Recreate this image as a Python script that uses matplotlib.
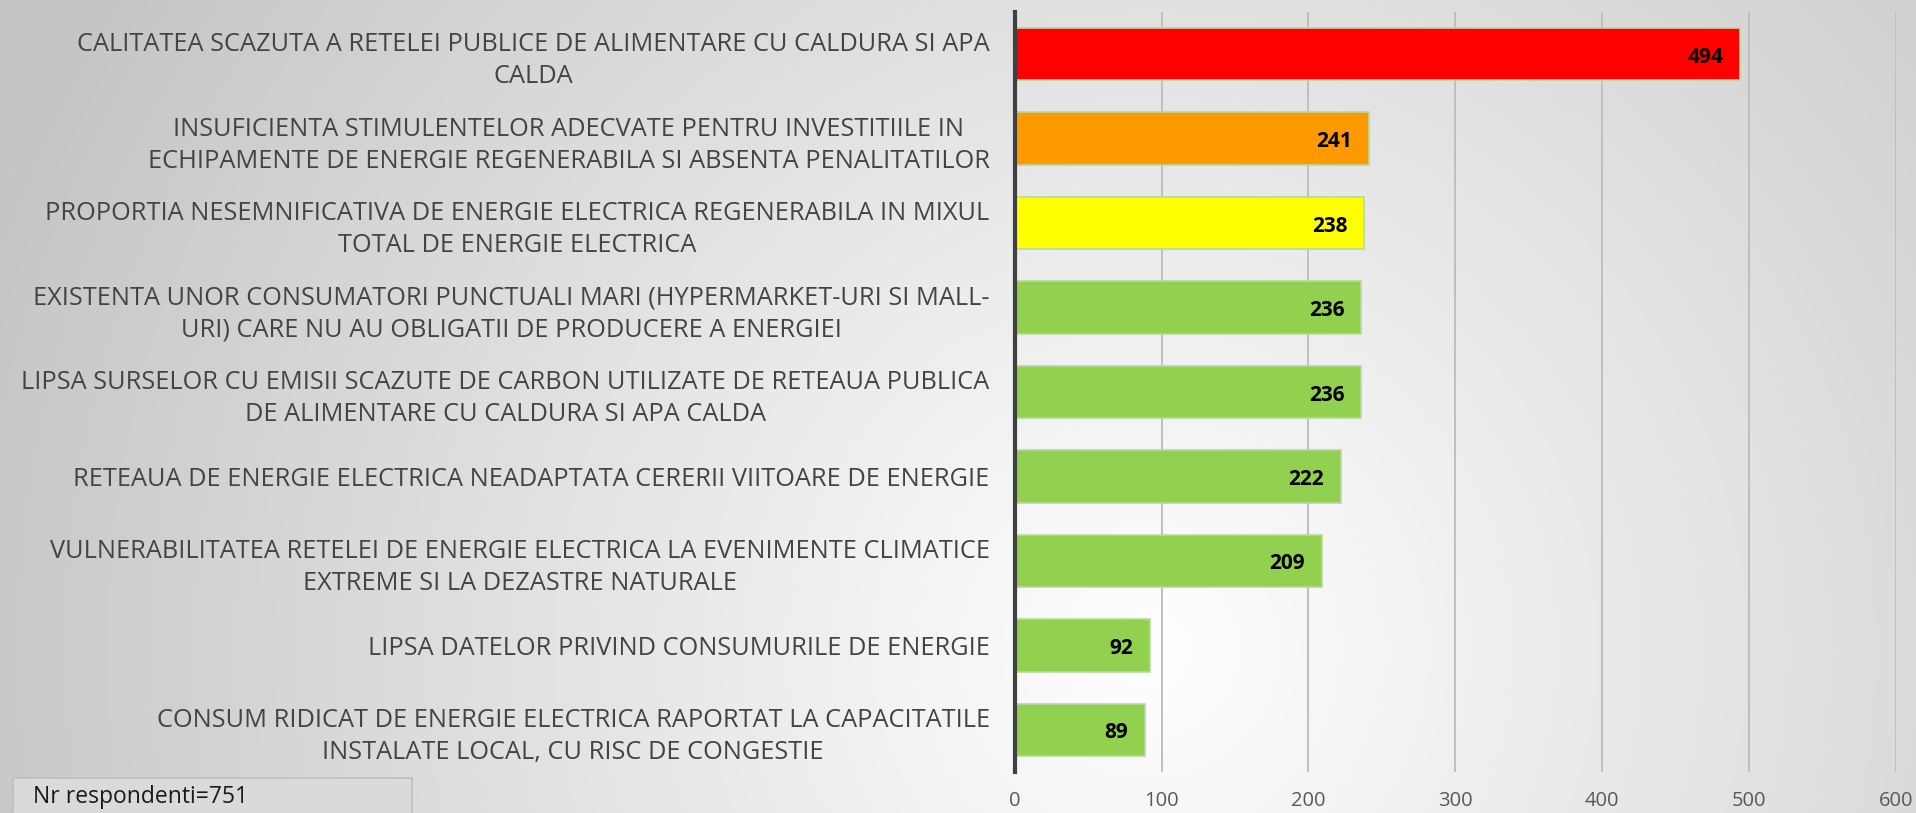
import numpy as np
import matplotlib
matplotlib.use("Agg")
import matplotlib.pyplot as plt
from matplotlib.patches import Rectangle

plt.rcParams['font.family'] = ['Open Sans', 'DejaVu Sans']

# data (top to bottom)
labels = [
    "CALITATEA SCAZUTA A RETELEI PUBLICE DE ALIMENTARE CU CALDURA SI APA\nCALDA",
    "INSUFICIENTA STIMULENTELOR ADECVATE PENTRU INVESTITIILE IN\nECHIPAMENTE DE ENERGIE REGENERABILA SI ABSENTA PENALITATILOR",
    "PROPORTIA NESEMNIFICATIVA DE ENERGIE ELECTRICA REGENERABILA IN MIXUL\nTOTAL DE ENERGIE ELECTRICA",
    "EXISTENTA UNOR CONSUMATORI PUNCTUALI MARI (HYPERMARKET-URI SI MALL-\nURI) CARE NU AU OBLIGATII DE PRODUCERE A ENERGIEI",
    "LIPSA SURSELOR CU EMISII SCAZUTE DE CARBON UTILIZATE DE RETEAUA PUBLICA\nDE ALIMENTARE CU CALDURA SI APA CALDA",
    "RETEAUA DE ENERGIE ELECTRICA NEADAPTATA CERERII VIITOARE DE ENERGIE",
    "VULNERABILITATEA RETELEI DE ENERGIE ELECTRICA LA EVENIMENTE CLIMATICE\nEXTREME SI LA DEZASTRE NATURALE",
    "LIPSA DATELOR PRIVIND CONSUMURILE DE ENERGIE",
    "CONSUM RIDICAT DE ENERGIE ELECTRICA RAPORTAT LA CAPACITATILE\nINSTALATE LOCAL, CU RISC DE CONGESTIE",
]
values = [494, 241, 238, 236, 236, 222, 209, 92, 89]
colors = ["#FF0000", "#FF9900", "#FFFF00", "#92D050", "#92D050",
          "#92D050", "#92D050", "#92D050", "#92D050"]
xticks = [0, 100, 200, 300, 400, 500, 600]
note = "Nr respondenti=751"

W, H = 1916, 813
fig = plt.figure(figsize=(W / 100, H / 100), dpi=100)

# gray-to-white radial background
bg = fig.add_axes([0, 0, 1, 1], zorder=-10)
yy, xx = np.mgrid[0:H, 0:W]
d = np.sqrt((xx - 1150) ** 2 + (yy - 650) ** 2)
shade = 1 - 0.23 * np.clip(d / 1250, 0, 1)
bg.imshow(np.dstack([shade] * 3), aspect='auto', extent=[0, 1, 0, 1])
bg.axis('off')

ax = fig.add_axes([1014.7 / W, 1 - 772 / H, (1896 - 1014.7) / W, (772 - 12) / H])
ax.set_facecolor('none')

y = np.arange(len(values))
bars = ax.barh(y, values, height=0.62, color=colors, edgecolor="#B7D99F", linewidth=1.2, zorder=3)
ax.set_ylim(len(values) - 0.5, -0.5)
ax.set_xlim(0, 600)
ax.set_xticks(xticks)
ax.set_xticklabels([str(t) for t in xticks], fontsize=14.5, color="#595959")
ax.tick_params(axis='x', length=0, pad=14)
ax.set_yticks(y)
ax.set_yticklabels(labels, fontsize=18.3, color="#444444", multialignment='center', linespacing=1.38)
ax.tick_params(axis='y', length=0, pad=18)

ax.grid(axis='x', color="#BFBFBF", linewidth=1.4, zorder=0)
for s in ['top', 'right', 'bottom']:
    ax.spines[s].set_visible(False)
ax.spines['left'].set_color("#404040")
ax.spines['left'].set_linewidth(3)
ax.spines['left'].set_zorder(4)

for bar, v in zip(bars, values):
    ax.annotate(str(v), (v, bar.get_y() + bar.get_height() / 2), xytext=(-17, -3),
                textcoords='offset pixels', ha='right', va='center',
                fontsize=15, fontweight='bold', color='black', zorder=5)

# respondents box at bottom-left
fig.patches.append(Rectangle((13 / W, -0.05), (412 - 13) / W, 0.05 + (H - 778) / H,
                             transform=fig.transFigure, facecolor="#DADADA",
                             edgecolor="#BFBFBF", linewidth=1.2, zorder=1))
fig.text(33 / W, 1 - 797 / H, note, fontsize=16.5, color="#1a1a1a", ha='left', va='center', zorder=2)

fig.savefig("out.png", dpi=100)
